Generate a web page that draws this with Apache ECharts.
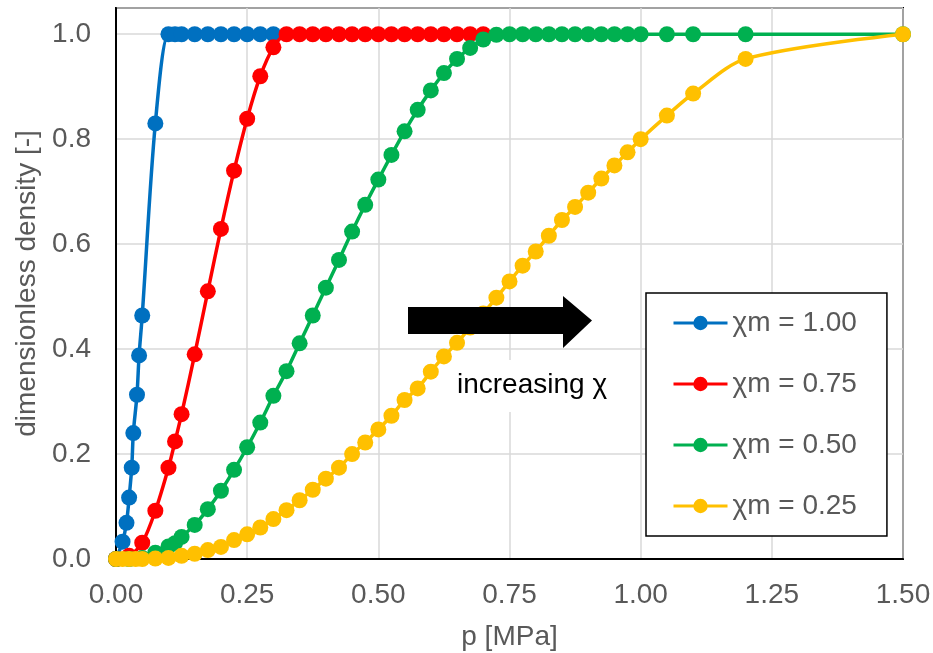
<!DOCTYPE html>
<html>
<head>
<meta charset="utf-8">
<script src="https://cdn.jsdelivr.net/npm/echarts@6/dist/echarts.min.js"></script>
<style>
html,body{margin:0;padding:0;background:#fff;}
#chart{width:933px;height:653px;}
</style>
</head>
<body>
<div id="chart"></div>
<script>
// ---- data ----
const seriesNames = ['χm = 1.00', 'χm = 0.75', 'χm = 0.50', 'χm = 0.25'];
const seriesColors = ['#0070C0', '#FF0000', '#00B050', '#FFC000'];

const blueP = [0, 0.0125, 0.02, 0.025, 0.03, 0.033, 0.04, 0.044, 0.05, 0.075, 0.1, 0.1125, 0.125, 0.15, 0.175, 0.2, 0.225, 0.25, 0.275, 0.3];
const blueV = [0, 0.033, 0.069, 0.117, 0.174, 0.240, 0.313, 0.388, 0.464, 0.830, 1, 1, 1, 1, 1, 1, 1, 1, 1, 1];

const redP = [0, 0.025, 0.05, 0.075, 0.1, 0.1125, 0.125, 0.15, 0.175, 0.2, 0.225, 0.25, 0.275, 0.3, 0.325, 0.35, 0.375, 0.4, 0.425, 0.45, 0.475, 0.5, 0.525, 0.55, 0.575, 0.6, 0.625, 0.65, 0.675, 0.7];
const redV = [0, 0.006, 0.031, 0.092, 0.174, 0.224, 0.276, 0.390, 0.510, 0.629, 0.740, 0.839, 0.920, 0.975, 1, 1, 1, 1, 1, 1, 1, 1, 1, 1, 1, 1, 1, 1, 1, 1];

const greenP = [0, 0.025, 0.05, 0.075, 0.1, 0.1125, 0.125, 0.15, 0.175, 0.2, 0.225, 0.25, 0.275, 0.3, 0.325, 0.35, 0.375, 0.4, 0.425, 0.45, 0.475, 0.5, 0.525, 0.55, 0.575, 0.6, 0.625, 0.65, 0.675, 0.7, 0.725, 0.75, 0.775, 0.8, 0.825, 0.85, 0.875, 0.9, 0.925, 0.95, 0.975, 1.0, 1.05, 1.1, 1.2, 1.5];
const greenV = [0, 0, 0.002, 0.012, 0.024, 0.030, 0.042, 0.065, 0.095, 0.130, 0.170, 0.213, 0.260, 0.311, 0.358, 0.411, 0.464, 0.517, 0.570, 0.624, 0.675, 0.723, 0.770, 0.815, 0.856, 0.893, 0.926, 0.953, 0.974, 0.990, 0.999, 1, 1, 1, 1, 1, 1, 1, 1, 1, 1, 1, 1, 1, 1, 1];

const yellowP = [0, 0.0125, 0.025, 0.0375, 0.05, 0.075, 0.1, 0.125, 0.15, 0.175, 0.2, 0.225, 0.25, 0.275, 0.3, 0.325, 0.35, 0.375, 0.4, 0.425, 0.45, 0.475, 0.5, 0.525, 0.55, 0.575, 0.6, 0.625, 0.65, 0.675, 0.7, 0.725, 0.75, 0.775, 0.8, 0.825, 0.85, 0.875, 0.9, 0.925, 0.95, 0.975, 1.0, 1.05, 1.1, 1.2, 1.5];
const yellowV = [0, 0, 0, 0, 0, 0.001, 0.002, 0.006, 0.010, 0.017, 0.023, 0.036, 0.047, 0.060, 0.076, 0.093, 0.112, 0.132, 0.153, 0.174, 0.200, 0.222, 0.247, 0.273, 0.303, 0.325, 0.357, 0.386, 0.412, 0.441, 0.468, 0.498, 0.529, 0.559, 0.586, 0.616, 0.646, 0.671, 0.698, 0.725, 0.750, 0.775, 0.800, 0.845, 0.887, 0.953, 1.0];

const xTicks = [0, 0.25, 0.5, 0.75, 1.0, 1.25, 1.5];
const yTicks = [0, 0.2, 0.4, 0.6, 0.8, 1.0];
const xAxisTitle = 'p [MPa]';
const yAxisTitle = 'dimensionless density [-]';
const annotationText = 'increasing χ';

// ---- chart ----
const FONT = '"Liberation Sans", Arial, sans-serif';
const FS = 28;
const pairs = (p, v) => p.map((x, i) => [x, v[i]]);
const allData = [pairs(blueP, blueV), pairs(redP, redV), pairs(greenP, greenV), pairs(yellowP, yellowV)];

const chart = echarts.init(document.getElementById('chart'), null, {renderer: 'canvas'});
const option = {
  animation: false,
  backgroundColor: '#fff',
  textStyle: {fontFamily: FONT},
  grid: {left: 116, right: 30, top: 8, bottom: 94, containLabel: false, outerBoundsMode: 'none',
         show: true, borderColor: '#000', borderWidth: 2, backgroundColor: 'transparent'},
  xAxis: {
    type: 'value', min: xTicks[0], max: xTicks[xTicks.length - 1], interval: 0.25,
    name: xAxisTitle, nameLocation: 'middle', nameGap: 64,
    nameTextStyle: {color: '#595959', fontSize: FS, fontFamily: FONT},
    axisLine: {show: true, lineStyle: {color: '#000', width: 2}},
    axisTick: {show: false},
    axisLabel: {color: '#595959', fontSize: FS, fontFamily: FONT, margin: 22, formatter: v => v.toFixed(2)},
    splitLine: {show: true, lineStyle: {color: '#D9D9D9', width: 1.5}}
  },
  yAxis: {
    type: 'value', min: 0, max: 1.05, interval: 0.2,
    name: yAxisTitle, nameLocation: 'middle', nameGap: 74, nameRotate: 90,
    nameTextStyle: {color: '#595959', fontSize: FS, fontFamily: FONT},
    axisLine: {show: true, lineStyle: {color: '#000', width: 2}},
    axisTick: {show: false},
    axisLabel: {color: '#595959', fontSize: FS, fontFamily: FONT, margin: 25,
      formatter: v => (yTicks.some(t => Math.abs(t - v) < 1e-6) ? v.toFixed(1) : '')},
    splitLine: {show: true, lineStyle: {color: '#D9D9D9', width: 1.5}}
  },
  legend: {
    orient: 'vertical', left: 646, top: 293,
    padding: [16, 30, 16, 26], itemGap: 33, itemWidth: 54, itemHeight: 18,
    backgroundColor: '#fff', borderColor: '#000', borderWidth: 1.5,
    lineStyle: {width: 3},
    textStyle: {color: '#595959', fontSize: FS, fontFamily: FONT},
    data: seriesNames
  },
  series: seriesNames.map((name, i) => ({
    name: name, type: 'line', data: allData[i],
    smooth: 0.3,
    symbol: 'circle', symbolSize: 16,
    color: seriesColors[i],
    lineStyle: {width: 3.5, color: seriesColors[i]},
    itemStyle: {color: seriesColors[i]},
    z: 2 + i
  })),
  graphic: [
    {type: 'rect', z: 5, shape: {x: 448, y: 360, width: 172, height: 52}, style: {fill: '#fff'}},
    {type: 'text', z: 6, left: 457, top: 371, style: {text: annotationText, fill: '#000', font: FS + 'px ' + FONT}},
    {type: 'polygon', z: 100, shape: {points: [[408, 307], [563, 307], [563, 296], [592, 320.5], [563, 348], [563, 334], [408, 334]]}, style: {fill: '#000'}}
  ]
};
chart.setOption(option);
</script>
</body>
</html>
